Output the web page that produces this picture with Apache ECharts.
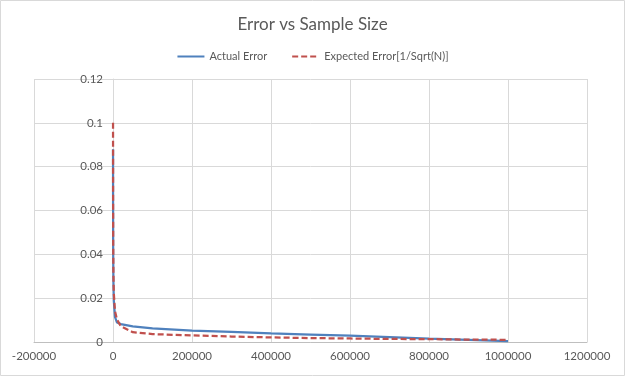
<!DOCTYPE html>
<html><head><meta charset="utf-8">
<script src="https://cdn.jsdelivr.net/npm/echarts@6/dist/echarts.min.js"></script>
<style>html,body{margin:0;padding:0;background:#fff}#c{width:625px;height:376px}</style>
</head><body><div id="c"></div>
<script>
const titleText = "Error vs Sample Size";
const seriesNames = ["Actual Error", "Expected Error[1/Sqrt(N)]"];
const sampleSizes = [100, 200, 500, 1000, 2000, 5000, 10000, 20000, 50000, 100000, 200000, 300000, 400000, 500000, 600000, 700000, 800000, 900000, 1000000];
const actualError = [0.088, 0.062, 0.040, 0.028, 0.019, 0.0115, 0.0089, 0.0082, 0.0071, 0.0062, 0.0052, 0.0046, 0.0039, 0.0034, 0.0029, 0.0022, 0.0015, 0.0010, 0.0004];
const expectedError = [0.1, 0.0707, 0.0447, 0.0316, 0.0224, 0.0141, 0.0102, 0.0072, 0.0045, 0.0036, 0.0030, 0.0025, 0.0021, 0.0018, 0.0016, 0.0014, 0.0013, 0.0011, 0.001];
const xTicks = {min: -200000, max: 1200000, step: 200000};
const yTicks = {min: 0, max: 0.12, step: 0.02};

const font = "Lato, 'Liberation Sans', sans-serif";
const gridLeft = 34, gridRight = 38;
const plotW = 625 - gridLeft - gridRight;
const zeroOffset = plotW * (0 - xTicks.min) / (xTicks.max - xTicks.min);
const chart = echarts.init(document.getElementById('c'));
chart.setOption({
  animation: false,
  backgroundColor: '#fff',
  graphic: [{type: 'rect', shape: {x: 0.5, y: 0.5, width: 624, height: 375}, style: {fill: 'none', stroke: '#d9d9d9', lineWidth: 1}, silent: true}],
  title: {text: titleText, left: 'center', top: 11, textStyle: {fontFamily: font, fontSize: 17, fontWeight: 'normal', color: '#595959'}},
  legend: {top: 46, left: 'center', itemWidth: 27, itemHeight: 12, itemGap: 24,
    itemStyle: {opacity: 0},
    textStyle: {fontFamily: font, fontSize: 11, color: '#595959'},
    data: seriesNames},
  grid: {left: gridLeft, right: gridRight, top: 79, bottom: 34, containLabel: false},
  xAxis: {type: 'value', min: xTicks.min, max: xTicks.max, interval: xTicks.step,
    axisLine: {show: true, lineStyle: {color: '#bfbfbf'}},
    axisTick: {show: false},
    axisLabel: {fontFamily: font, fontSize: 11.5, color: '#595959', margin: 8, formatter: v => String(v)},
    splitLine: {show: true, lineStyle: {color: '#d9d9d9'}}},
  yAxis: {type: 'value', min: yTicks.min, max: yTicks.max, interval: yTicks.step,
    position: 'left', offset: -zeroOffset,
    axisLine: {show: true, onZero: false, lineStyle: {color: '#d9d9d9'}},
    axisTick: {show: false},
    axisLabel: {fontFamily: font, fontSize: 11.5, color: '#595959', margin: 10, formatter: v => String(+v.toFixed(2))},
    splitLine: {show: true, lineStyle: {color: '#d9d9d9'}}},
  series: [
    {name: seriesNames[0], type: 'line', symbol: 'none', data: sampleSizes.map((n, i) => [n, actualError[i]]),
      lineStyle: {color: '#4F81BD', width: 2.25}, itemStyle: {color: '#4F81BD'}, z: 2},
    {name: seriesNames[1], type: 'line', symbol: 'none', data: sampleSizes.map((n, i) => [n, expectedError[i]]),
      lineStyle: {color: '#C0504D', width: 2.25, type: [6, 3]}, itemStyle: {color: '#C0504D'}, z: 3}
  ]
});
</script></body></html>
